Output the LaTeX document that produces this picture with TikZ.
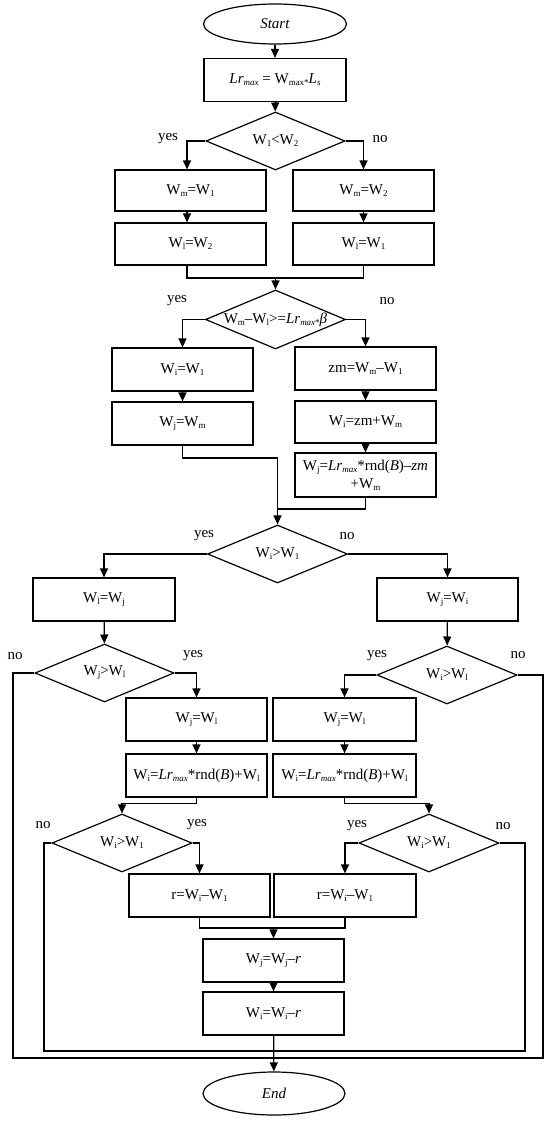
\documentclass[tikz,border=0pt]{standalone}
\usepackage{fontspec}
\setmainfont{Liberation Serif}
\usetikzlibrary{shapes.geometric,arrows.meta}
\newcommand\lo[1]{\raisebox{-0.3ex}{\fontsize{9}{9}\selectfont #1}}
\newcommand\zb[1]{\makebox[0pt]{#1}}
\newcommand\Lrm{\textit{Lr}\lo{\textit{max}}}
\begin{document}
\begin{tikzpicture}[x=1pt,y=-1pt,
  font=\fontsize{15}{18}\selectfont, line width=1.2pt,
  box/.style={draw, rectangle, minimum width=141pt, minimum height=43pt, inner sep=0pt, align=center},
  dia/.style={draw, diamond, minimum width=140pt, minimum height=58pt, inner sep=0pt},
  term/.style={draw, ellipse, minimum width=143pt, minimum height=40pt, inner sep=0pt},
  lab/.style={inner sep=0pt},
  arr/.style={-{Triangle[length=9pt,width=8pt]}}]
\useasboundingbox (0,0) rectangle (550,1121);
\fill[white] (0,0) rectangle (550,1121);

% nodes
\node[term] (start) at (275,24) {\textit{Start}};
\node[box, minimum width=142pt] (b1) at (275,80) {\Lrm\ = W\lo{max}\lo{*}\textit{L}\lo{\textit{s}}};
\node[dia, minimum width=139pt] (d1) at (275.5,141) {\zb{W\lo{1}<W\lo{2}}};
\node[box, minimum width=151pt, minimum height=41pt] (bL1) at (190.5,190.5) {W\lo{m}=W\lo{1}};
\node[box, minimum height=41pt] (bR1) at (363.5,190.5) {W\lo{m}=W\lo{2}};
\node[box, minimum width=151pt, minimum height=42pt] (bL2) at (190.5,244) {W\lo{l}=W\lo{2}};
\node[box, minimum height=42pt] (bR2) at (363.5,244) {W\lo{l}=W\lo{1}};
\node[dia, minimum height=59pt] (d2) at (275.5,319.5) {\zb{W\lo{m}–W\lo{l}>=\Lrm\lo{*}\textit{β}}};
\node[box] (bL3) at (182.5,369.5) {W\lo{i}=W\lo{1}};
\node[box] (bR3) at (365.5,368.5) {zm=W\lo{m}–W\lo{1}};
\node[box] (bL4) at (182.5,423.5) {W\lo{j}=W\lo{m}};
\node[box, minimum height=42pt] (bR4) at (365.5,422) {W\lo{i}=zm+W\lo{m}};
\node[box, minimum height=44pt] (bR5) at (365.5,475) {W\lo{j}=\Lrm*rnd(\textit{B})–\textit{zm}\\+W\lo{m}};
\node[dia] (d3) at (277.5,554) {\zb{W\lo{i}>W\lo{1}}};
\node[box, minimum width=142pt] (bA) at (104,599.5) {W\lo{l}=W\lo{j}};
\node[box] (bB) at (447.5,599.5) {W\lo{j}=W\lo{i}};
\node[dia, minimum width=139pt] (d4) at (104.5,673) {\zb{W\lo{j}>W\lo{l}}};
\node[dia] (d5) at (447,675) {\zb{W\lo{i}>W\lo{l}}};
\node[box] (bC) at (196.5,719.5) {W\lo{j}=W\lo{l}};
\node[box] (bD) at (196.5,775.5) {W\lo{i}=\Lrm*rnd(\textit{B})+W\lo{l}};
\node[box, minimum width=143pt] (bE) at (344.5,719.5) {W\lo{j}=W\lo{l}};
\node[box, minimum width=143pt] (bF) at (344.5,775.5) {W\lo{i}=\Lrm*rnd(\textit{B})+W\lo{l}};
\node[dia] (d6) at (122,843) {\zb{W\lo{i}>W\lo{1}}};
\node[dia] (d7) at (429,843) {\zb{W\lo{i}>W\lo{1}}};
\node[box] (rL) at (199.5,895.5) {r=W\lo{i}–W\lo{1}};
\node[box, minimum width=142pt] (rR) at (345,895.5) {r=W\lo{i}–W\lo{1}};
\node[box] (bG) at (273.5,960.5) {W\lo{j}=W\lo{j}–\textit{r}};
\node[box] (bH) at (273.5,1013.5) {W\lo{i}=W\lo{i}–\textit{r}};
\node[term, minimum width=142pt, minimum height=43pt] (end) at (274,1093.5) {\textit{End}};

% labels
\node[lab] (y1) at (168,139) {yes};
\node[lab] (n1) at (380,139) {no};
\node[lab] (y2) at (177,301) {yes};
\node[lab] (n2) at (387,301) {no};
\node[lab] (y3) at (204,536) {yes};
\node[lab] (n3) at (347,536) {no};
\node[lab] (n4) at (15,656) {no};
\node[lab] (y4) at (193,656) {yes};
\node[lab] (y5) at (377,656) {yes};
\node[lab] (n5) at (518,655) {no};
\node[lab] (n6) at (43,825) {no};
\node[lab] (y6) at (197,825) {yes};
\node[lab] (y7) at (357,826) {yes};
\node[lab] (n7) at (503,826) {no};

% coordinates
\coordinate (m1) at (275.5,278);
\coordinate (m2) at (277.5,458);
\coordinate (m3) at (277.5,509);
\coordinate (m4) at (273.5,928);
\coordinate (o1) at (13,1058);
\coordinate (o2) at (543,1058);
\coordinate (i1) at (44,1051);
\coordinate (i2) at (525,1051);

% connectors
\draw[arr] (start) -- (b1);
\draw[arr] (b1) -- (d1);
\draw[arr] (d1.west) -| ([xshift=-3.5pt]bL1.north);
\draw[arr] (d1.east) -| (bR1.north);
\draw[arr] ([xshift=-3.5pt]bL1.south) -- ([xshift=-3.5pt]bL2.north);
\draw[arr] (bR1) -- (bR2);
\draw ([xshift=-3.5pt]bL2.south) |- (m1) -| (bR2.south);
\draw[arr] (m1) -- (d2.north);
\draw[arr] (d2.west) -| (bL3.north);
\draw[arr] (d2.east) -| (bR3.north);
\draw[arr] (bL3) -- (bL4);
\draw[arr] (bR3) -- (bR4);
\draw[arr] (bR4) -- (bR5);
\draw (bL4.south) |- (m2);
\draw (bR5.south) |- (m3);
\draw[arr] (m2) -- (d3.north);
\draw[arr] (d3.west) -| (bA.north);
\draw[arr] (d3.east) -| (bB.north);
\draw[arr] (bA) -- (d4);
\draw[arr] (bB) -- (d5);
\draw[arr] (d4.east) -| (bC.north);
\draw[arr] (d5.west) -| (bE.north);
\draw[arr] (bC) -- (bD);
\draw[arr] (bE) -- (bF);
\draw[arr] (bD.south) -- ++(0,6) -| (d6.north);
\draw[arr] (bF.south) -- ++(0,6) -| (d7.north);
\draw[arr] (d6.east) -| (rL.north);
\draw[arr] (d7.west) -| (rR.north);
\draw (rL.south) |- (m4) -| (rR.south);
\draw[arr] (m4) -- (bG.north);
\draw[arr] (bG) -- (bH);
\draw[arr] (bH) -- (end);
\draw (d4.west) -| (o1) -- (o2) |- (d5.east);
\draw (d6.west) -| (i1) -- (i2) |- (d7.east);
\end{tikzpicture}
\end{document}
